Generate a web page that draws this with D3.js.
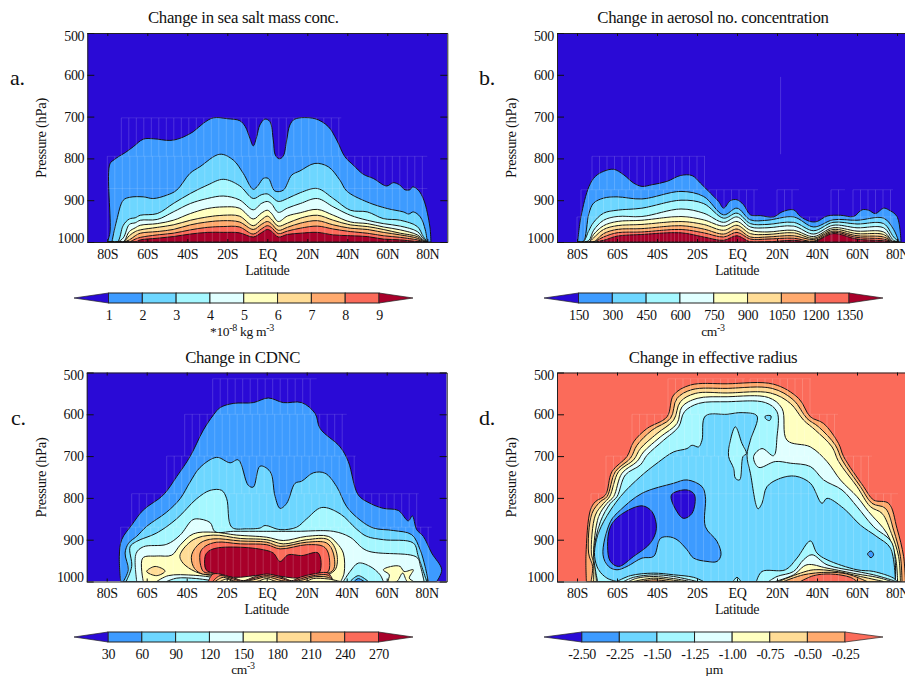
<!DOCTYPE html>
<html>
<head>
<meta charset="utf-8">
<script src="https://cdnjs.cloudflare.com/ajax/libs/d3/7.8.5/d3.min.js"></script>
<style>
  html, body { margin: 0; padding: 0; background: #fff; overflow: hidden; }
  svg { display: block; }
  text { font-family: "Liberation Serif", serif; fill: #111; letter-spacing: -0.3px; }
</style>
</head>
<body>
<svg id="chart" width="905" height="676"></svg>
<script>
const latTicks = [-80, -60, -40, -20, 0, 20, 40, 60, 80];
const latLabels = ["80S", "60S", "40S", "20S", "EQ", "20N", "40N", "60N", "80N"];
const pressureTicks = [500, 600, 700, 800, 900, 1000];
const bandColors = ["#2a0ad6", "#3d9bff", "#6dd6ff", "#a5f7ff", "#e0ffff", "#ffffc0", "#ffdc96", "#ffaa6e", "#fb6b5a", "#a8002a"];

// Colour bar labels
const saltBarLabels = ["1", "2", "3", "4", "5", "6", "7", "8", "9"];
const numBarLabels = ["150", "300", "450", "600", "750", "900", "1050", "1200", "1350"];
const cdncBarLabels = ["30", "60", "90", "120", "150", "180", "210", "240", "270"];
const radiusBarLabels = ["-2.50", "-2.25", "-1.50", "-1.25", "-1.00", "-0.75", "-0.50", "-0.25"];

// a. sea salt: contours as [lat, hPa]
const saltC1 = [[-80,1000],[-78.7,978],[-78.7,813],[-76.5,803],[-74.5,796],[-71,786],[-67,772],[-62,754],[-57,753],[-48.7,757],[-43.7,752],[-37,736],[-32,716],[-27,703],[-20,705],[-13.7,710],[-11,724],[-8.7,752],[-7,770],[-5.3,748],[-3.7,720],[-1.2,706],[1.3,712],[3,756],[4,792],[6,801],[8,794],[9.7,756],[11.3,720],[13.8,706],[23.8,705],[30.5,724],[34.7,756],[38.8,796],[43,816],[48,838],[53,848],[59.7,866],[63,858],[66.3,864],[68.8,875],[71.3,875],[72.7,868],[75.5,876],[78.3,900],[81.3,964],[81.8,1000]];
const saltC2 = [[-77.7,1000],[-75.3,948],[-72,900],[-68.7,893],[-62,892],[-57,896],[-50.3,888],[-45.3,876],[-38.7,836],[-33.7,820],[-23.7,790],[-17,804],[-12,836],[-7,874],[-4.5,864],[-2,848],[0.5,848],[3.8,878],[8,876],[12.2,840],[16.3,830],[23.8,812],[30.5,820],[36.3,852],[39.7,878],[49.8,904],[60,920],[68,928],[70.7,933],[73,928],[76.5,940],[79,971],[80,1000]];
const saltLats = [-80,-75,-72,-69,-66,-63.5,-55,-47,-38.5,-30,-22,-14,-7,-3,0,2,5.5,10,16.5,25,33,41.5,50,58,66.5,75,78,80];
const saltP3 = [1000,1000,960,945,942,936,932,908,884,864,850,865,896,887,885,891,903,896,882,872,896,924,928,944,948,963,987,1000];
const saltP4 = [1000,1000,990,958,954,948,946,928,908,896,890,899,923,908,903,908,929,919,908,896,916,936,948,956,962,975,992,1000];
const saltP5 = [1000,1000,1000,975,966,960,956,948,932,920,916,919,945,931,924,931,951,938,930,922,936,952,956,964,971,983,995,1000];
const saltP6 = [1000,1000,1000,985,975,971,965,959,948,940,936,938,961,947,938,945,962,955,943,936,948,959,963,970,979,987,997,1000];
const saltP7 = [1000,1000,1000,995,985,979,975,970,959,952,949,952,970,958,951,956,972,965,955,949,959,967,970,977,983,991,998,1000];
const saltP8 = [1000,1000,1000,1000,993,989,983,979,971,965,963,964,981,969,961,965,980,974,967,962,969,975,979,985,989,995,999,1000];
const saltP9 = [1000,1000,1000,1000,1000,995,991,987,981,977,977,978,988,978,970,974,988,982,979,977,983,985,987,993,995,999,1000,1000];

// b. aerosol number
const numC1 = [[-79.7,1000],[-78,939],[-74,867],[-70.8,843],[-66.7,831],[-61.7,826],[-56.7,839],[-51.7,859],[-47.5,867],[-42.5,863],[-35,855],[-28.3,841],[-22.5,841],[-18.3,859],[-13.3,883],[-9.2,903],[-6.7,919],[-3.3,901],[0,899],[3.3,911],[6.7,935],[11.7,937],[18.3,940],[22.5,928],[28.3,923],[31.7,939],[36.7,951],[40,951],[45,938],[51.7,936],[58.3,939],[62.5,923],[65.8,924],[69.2,932],[73.3,919],[75.8,923],[80,939],[82,1000]];
const numLats = [-80,-77,-74,-71.7,-66.7,-60,-47.5,-28,-16.7,-6.7,0,6.7,15,28.3,38.3,48,60,73.3,78.3,81];
const numP2 = [1000,1000,931,907,895,892,897,879,891,935,919,947,948,940,964,947,948,943,970,1000];
const numP3 = [1000,1000,972,953,931,924,919,900,908,943,931,956,958,953,973,953,957,956,988,1000];
const numP4 = [1000,1000,996,972,948,939,939,921,931,953,940,964,966,962,981,960,966,966,996,1000];
const numP5 = [1000,1000,1000,982,961,951,948,939,947,962,951,972,976,972,987,966,974,976,1000,1000];
const numP6 = [1000,1000,1000,990,970,961,958,951,958,972,960,980,982,978,991,970,980,982,1000,1000];
const numP7 = [1000,1000,1000,1000,980,970,968,961,969,981,969,988,988,985,994,974,985,988,1000,1000];
const numP8 = [1000,1000,1000,1000,988,978,976,970,978,988,977,993,993,991,998,977,989,993,1000,1000];
const numP9 = [1000,1000,1000,1000,996,986,982,978,988,996,985,1000,1000,996,1000,980,993,997,1000,1000];

// c. CDNC
const cdncC1 = [[-73,1000],[-73.7,940],[-72.5,900],[-67.5,865],[-61.7,829],[-51.7,793],[-45,749],[-38.3,701],[-31.7,638],[-26.7,602],[-23.3,584],[-16.7,574],[-6.7,572],[0.8,561],[8.3,572],[17.5,572],[24.2,598],[26.7,634],[36.7,678],[40.8,713],[45.8,793],[51.7,813],[58.3,825],[65.8,830],[70.8,855],[72.8,843],[75,876],[78.3,892],[82.5,932],[87.5,972],[85,1000]];
const cdncC2 = [[-71.7,1000],[-69.2,972],[-70.8,932],[-69,908],[-65,892],[-60,868],[-50,834],[-43.3,802],[-38.3,762],[-33.3,727],[-25,703],[-18.3,716],[-14.2,709],[-9.2,770],[-6.7,774],[-3.3,724],[1.7,737],[4.2,797],[6.7,825],[10,813],[14.2,765],[17.5,760],[23.3,740],[29.2,741],[35,773],[40,821],[46.7,853],[53.3,872],[63.3,878],[72.5,888],[76.7,924],[79.2,964],[80.8,1000]];
const cdncC3 = [[-70.3,1000],[-67.5,964],[-68.3,917],[-65,904],[-55,884],[-45,850],[-35,802],[-28.3,782],[-22.5,782],[-20,802],[-17.5,870],[-10,874],[-3.3,872],[-0.8,866],[6.7,876],[15,870],[20,850],[27.5,823],[36.7,838],[45,875],[50,892],[58.3,900],[73.3,908],[75.8,940],[80,1000]];
const cdncC4 = [[-65,1000],[-65.3,933],[-61.7,917],[-50,911],[-43.3,889],[-37.5,854],[-35,850],[-28.3,859],[-25.8,881],[-16.7,880],[0,880],[15,880],[33.3,880],[41.7,894],[50,926],[75,942],[77,966],[78.7,1000]];
const cdncC5 = [[-61.7,1000],[-62,944],[-55,939],[-47.5,937],[-43.3,913],[-36.7,886],[-26.7,882],[-15,889],[0,894],[8.3,902],[20,892],[30.8,892],[35,908],[38.3,932],[38.7,980],[37,1000]];
const cdncC6 = [[-43.3,936],[-36.7,900],[-26.7,889],[-13.3,897],[0,900],[8.3,910],[20,900],[30.8,900],[35,932],[34.2,972],[26.7,988],[0,984],[-30,984],[-37.5,972],[-42.5,952]];
const cdncC7 = [[-37.5,936],[-33.3,908],[-26.7,898],[-13.3,903],[0,906],[6.7,916],[20,906],[30,908],[33.3,932],[33.3,972],[26.7,984],[0,980],[-26.7,984],[-33.3,980],[-36.7,964]];
const cdncC8 = [[-33.3,932],[-30.8,916],[-25,906],[-13.3,910],[0,912],[6.7,922],[20,912],[28.3,916],[30.8,932],[30.8,976],[26.7,980],[0,976],[-26.7,980],[-31.7,976]];
const cdncC9 = [[-30.8,940],[-29.2,928],[-25,920],[-13.3,918],[-1.7,924],[3.3,932],[6.7,952],[10.8,936],[17.5,938],[25.8,932],[26.2,980],[16.7,992],[0,984],[-16.7,990],[-26.7,980],[-30.3,972]];
const cdncHoleA = [[-55,1000],[-49.2,986],[-36.7,985],[-25,992],[-20,1000]];
const cdncHoleB = [[-50,1000],[-45,992],[-35,993],[-25,1000]];
const cdncDent8 = [[-29.2,1000],[-26.7,982],[-16.7,991],[-11.7,998],[-6.7,990],[0,982],[8.3,991],[12.5,998],[16.7,990],[23.3,982],[30.8,980],[33.3,1000]];
const cdncDent7 = [[-27,1000],[-23.3,986],[-16.7,994],[-11.7,1000],[-6.7,993],[0,986],[8.3,994],[12.5,1000],[17.5,993],[23.3,986],[30.8,985],[33.3,1000]];
const cdncDent6 = [[-25.8,1000],[-21.7,990],[-15,1000],[-6.7,996],[0,989],[7.5,998],[13.3,1000],[18.3,996],[23.3,989],[30.8,990],[34.2,1000]];
const cdncDent5 = [[-23.3,1000],[-20,994],[-16.7,1000],[-5,1000],[0,993],[5,1000],[19.2,1000],[23.3,993],[30.8,994],[36.7,1000]];
const cdncIslandSmall = [[-60,976],[-55.8,964],[-50.8,975],[-55,986]];
const cdncIslandCream = [[58.3,972],[63.3,963],[66.7,964],[68.7,976],[73.3,972],[71.3,992],[73.3,1000],[70.3,1000],[68,980],[65,1000],[60.8,1000],[61.3,984]];
const cdncIslandA = [[38.3,1000],[41.7,976],[45.8,956],[51.7,964],[56.7,984],[58.3,1000]];
const cdncIslandB = [[41.7,1000],[45.8,986],[50.8,1000]];
const cdncIslandC = [[43.7,1000],[45.8,993],[48.7,1000]];

// d. effective radius
const radC1 = [[-75.3,1000],[-75.5,936],[-73.3,829],[-70.8,809],[-65.8,793],[-62.5,737],[-55,701],[-51.7,666],[-45,634],[-35,606],[-31.7,554],[-23.3,530],[-5,527],[18.3,528],[30.8,562],[36.7,606],[43.3,622],[50.8,670],[53.3,701],[63.3,773],[68.3,805],[75.8,813],[80,873],[83.3,940],[84.2,1000]];
const radC2 = [[-73,1000],[-72.2,964],[-74.2,932],[-72.5,837],[-68.3,809],[-65,797],[-60.8,737],[-53.3,705],[-50,674],[-42.5,638],[-33.3,610],[-30,562],[-22.5,541],[-5,538],[17.5,538],[28.3,566],[35,610],[40.8,630],[49.2,674],[52.5,709],[61.7,773],[67.5,813],[74.2,825],[78.3,877],[81.7,940],[82.5,1000]];
const radC3 = [[-71.7,1000],[-71.7,956],[-72.8,932],[-70.8,841],[-66.7,813],[-63.7,797],[-59.2,737],[-51.7,709],[-48.3,682],[-40,646],[-31.7,614],[-28.3,570],[-20.8,550],[-5,549],[16.7,549],[26.7,574],[33.3,614],[39.2,638],[47.5,678],[50.8,713],[60,773],[66.7,821],[72.5,837],[77.2,885],[80.8,940],[81.7,1000]];
const radC4 = [[-70.3,1000],[-71.2,948],[-71.7,932],[-69.2,845],[-65,813],[-61.7,797],[-57.5,741],[-50,713],[-46.7,690],[-38.3,654],[-30,622],[-27.5,582],[-20,562],[-5,558],[15.8,560],[22.5,586],[25,662],[36.7,678],[45,713],[51.7,757],[60,797],[65.8,833],[75,885],[79.2,940],[80.3,1000]];
const radC5 = [[-69.7,1000],[-70.8,972],[-71.7,932],[-68.3,857],[-63.3,813],[-60,797],[-55.8,745],[-48.3,721],[-45,698],[-36.7,662],[-29.2,630],[-26.3,594],[-19.2,574],[-5,570],[14.2,572],[20,594],[20,654],[18.3,699],[12.5,682],[8.3,701],[10.8,727],[19.2,713],[26.7,717],[36.7,725],[43.3,757],[52.5,781],[60,821],[68.3,869],[77.5,908],[79.2,1000]];
const radC6 = [[-60,1000],[-65,992],[-69.2,972],[-71.2,940],[-70.3,900],[-66.7,857],[-58.3,797],[-48.3,749],[-40,717],[-31.7,690],[-25,682],[-22.5,674],[-19.2,678],[-17.5,662],[-15.8,604],[-5,600],[2.5,596],[10,604],[6.7,662],[5,698],[6.7,741],[10.5,826],[12.5,813],[15,773],[21.7,753],[29.2,748],[36.7,765],[42.5,813],[45,801],[53.3,825],[61.7,865],[70,893],[76.7,920],[79.2,1000]];
const radC7 = [[-67,936],[-63.3,857],[-58.3,829],[-47.5,789],[-31.7,765],[-25,757],[-17.5,773],[-15.8,797],[-15.8,869],[-10,904],[-8,936],[-10,952],[-15,952],[-21.7,944],[-25,924],[-30,900],[-34.2,893],[-38.3,897],[-41.7,940],[-47.5,944],[-55,964],[-60,972],[-64.2,964]];
const radC8 = [[-64.7,916],[-63.3,869],[-58.3,841],[-47.5,819],[-42.5,833],[-40.3,873],[-43.3,908],[-51.7,940],[-59.2,964],[-63.3,952]];
const radC8b = [[-32.8,793],[-25,781],[-21.2,793],[-22.5,837],[-26.7,849],[-30,833]];
const radPatchEq = [[-3.3,662],[-0.8,630],[2.5,670],[4.7,694],[3,701],[1.3,757],[-0.8,753],[-1.7,729],[-4.2,701]];
const radPatchTop = [[14.2,604],[17,604],[16.3,615],[14.2,610]];
const radPatchEast = [[65.3,934],[67,927],[68.3,936],[67,943]];
const radLeft3 = [[-60,1000],[-53.3,986],[-41.7,980],[-31.7,984],[-21.7,990],[-16.7,1000]];
const radLeft4 = [[-56.7,1000],[-51.7,990],[-41.7,984],[-31.7,988],[-20,1000]];
const radLeft5 = [[-54.2,1000],[-50,992],[-41.7,988],[-31.7,993],[-23.3,1000]];
const radLeft6 = [[-51.7,1000],[-41.7,992],[-31.7,997],[-26.7,1000]];
const radLeft7 = [[-48.3,1000],[-41.7,996],[-33.3,1000]];
const radEq3 = [[-2,1000],[0,990],[2,1000]];
const radRight3 = [[9.7,1000],[12.5,976],[24.2,972],[30,944],[36.7,903],[40,932],[45,948],[60,972],[68.3,976],[78.3,992],[80,1000]];
const radRight4 = [[15.8,1000],[20,988],[28.3,976],[33.3,948],[37.5,936],[45,960],[60,976],[68.3,984],[78.3,998],[79.2,1000]];
const radRight5 = [[19.2,1000],[28.3,984],[35,960],[45,968],[60,982],[70,990],[77.5,1000]];
const radRight6 = [[20.8,1000],[31.7,980],[38.3,972],[50,976],[61.7,988],[73.3,1000]];
const radRight7 = [[23.3,1000],[33.3,984],[45,978],[55,982],[65,1000]];
const radRight8 = [[31.7,1000],[38.3,986],[46.7,982],[56.7,990],[60,1000]];

// Significance hatching: [lat from, lat to, hPa top, hPa bottom]
const saltHatch = [[-73,37,703,795],[-80,80,795,872],[-80,80,872,1000]];
const numHatch = [[-72.5,-16,795,875],[-78,-16,875,1000],[-14,10.5,875,1000],[20,31,875,1000],[47,54,875,1000],[58,78,875,1000],[-80,80,940,1000],[21.8,21.8,605,790]];
const cdncHatch = [[-27,25,515,600],[-41,40,600,700],[-50,44.5,700,790],[-67.5,76,790,870],[-73,82.5,870,1000]];
const radHatch = [[-34.5,4,515,600],[6.5,37,515,600],[-52.5,50.5,600,700],[-65.5,67.5,700,790],[-73,80.5,790,1000]];

const zip = (lats, ps) => lats.map((lat, i) => [lat, ps[i]]);

const saltLayers = [[1, saltC1], [2, saltC2], [3, zip(saltLats, saltP3)], [4, zip(saltLats, saltP4)], [5, zip(saltLats, saltP5)], [6, zip(saltLats, saltP6)], [7, zip(saltLats, saltP7)], [8, zip(saltLats, saltP8)], [9, zip(saltLats, saltP9)]];
const numLayers = [[1, numC1], [2, zip(numLats, numP2)], [3, zip(numLats, numP3)], [4, zip(numLats, numP4)], [5, zip(numLats, numP5)], [6, zip(numLats, numP6)], [7, zip(numLats, numP7)], [8, zip(numLats, numP8)], [9, zip(numLats, numP9)]];
const cdncLayers = [[1, cdncC1], [2, cdncC2], [3, cdncC3], [4, cdncC4], [5, cdncC5], [6, cdncIslandSmall], [6, cdncC6], [7, cdncC7], [8, cdncC8], [9, cdncC9], [4, cdncHoleA], [3, cdncHoleB], [8, cdncDent8], [7, cdncDent7], [6, cdncDent6], [5, cdncDent5], [5, cdncIslandCream], [3, cdncIslandA], [2, cdncIslandB], [1, cdncIslandC]];
const radLayers = [[7, radC1], [6, radC2], [5, radC3], [4, radC4], [3, radC5], [2, radPatchTop], [2, radC6], [3, radPatchEq], [1, radC7], [0, radC8], [0, radC8b], [1, radPatchEast], [3, radLeft3], [4, radLeft4], [5, radLeft5], [6, radLeft6], [7, radLeft7], [3, radEq3], [3, radRight3], [4, radRight4], [5, radRight5], [6, radRight6], [7, radRight7], [8, radRight8]];

const svg = d3.select("#chart");

// One contour panel
function drawPanel(id, left, top, background, layers, hatch) {
  const xScale = d3.scaleLinear().domain([-90, 90]).range([left, left + 360]);
  const yScale = d3.scaleLinear().domain([500, 1000]).range([top, top + 209]);

  svg.append("clipPath").attr("id", id)
    .append("rect").attr("x", left).attr("y", top).attr("width", 360).attr("height", 209);

  const ctr = svg.append("g").attr("clip-path", `url(#${id})`);
  ctr.append("rect").attr("x", left).attr("y", top).attr("width", 360).attr("height", 209)
    .attr("fill", bandColors[background]);

  const openLine = d3.line().x((d) => xScale(d[0])).y((d) => yScale(d[1])).curve(d3.curveCatmullRom.alpha(0.5));
  const closedLine = d3.line().x((d) => xScale(d[0])).y((d) => yScale(d[1])).curve(d3.curveCatmullRomClosed.alpha(0.5));

  layers.forEach(([band, points]) => {
    // shapes that sit on the ground are closed along the bottom
    const onGround = points[0][1] >= 1000 && points[points.length - 1][1] >= 1000;
    ctr.append("path")
      .attr("d", onGround ? openLine(points) + "Z" : closedLine(points))
      .attr("fill", bandColors[band])
      .attr("stroke", "#141414")
      .attr("stroke-width", 1)
      .attr("stroke-linejoin", "round");
  });

  // Hatching
  hatch.forEach(([lat0, lat1, p0, p1]) => {
    const lats = lat0 === lat1 ? [lat0] : d3.range(lat0, lat1 + 0.01, 3.75);
    ctr.append("g").selectAll("line").data(lats).join("line")
      .attr("x1", (d) => xScale(d)).attr("x2", (d) => xScale(d))
      .attr("y1", yScale(p0)).attr("y2", yScale(p1))
      .attr("stroke", "#fff").attr("stroke-opacity", 0.17).attr("stroke-width", 1);
    if (lat0 !== lat1) {
      ctr.append("line")
        .attr("x1", xScale(lat0)).attr("x2", xScale(lat1))
        .attr("y1", yScale(p0)).attr("y2", yScale(p0))
        .attr("stroke", "#fff").attr("stroke-opacity", 0.12);
    }
  });

  // Axis
  const xAxis = d3.axisBottom(xScale).tickValues(latTicks)
    .tickFormat((d, i) => latLabels[i]).tickSize(-3).tickPadding(7).tickSizeOuter(0);
  const xTop = d3.axisTop(xScale).tickValues(latTicks).tickFormat("").tickSize(-3).tickSizeOuter(0);
  const yAxis = d3.axisLeft(yScale).tickValues(pressureTicks).tickFormat(d3.format("d"))
    .tickSize(-7).tickPadding(3).tickSizeOuter(0);
  const yRight = d3.axisRight(yScale).tickValues(pressureTicks).tickFormat("").tickSize(-7).tickSizeOuter(0);

  const gx = svg.append("g").attr("transform", `translate(0, ${top + 209})`).call(xAxis);
  svg.append("g").attr("transform", `translate(0, ${top})`).call(xTop);
  const gy = svg.append("g").attr("transform", `translate(${left}, 0)`).call(yAxis);
  svg.append("g").attr("transform", `translate(${left + 360}, 0)`).call(yRight);

  svg.selectAll(".domain").attr("stroke", "#222");
  svg.selectAll(".tick line").attr("stroke", "#111");
  gx.selectAll("text").attr("font-size", 14);
  gy.selectAll("text").attr("font-size", 14);
  // first and last pressure labels stay inside the frame
  gy.selectAll(".tick text").filter((d) => d === 500).attr("y", 3);
  gy.selectAll(".tick text").filter((d) => d === 1000).attr("y", -4);
}

// Colour bar with pointed ends
function drawBar(labels, x0, x1, tip0, tip1, top, lowBand, highBand) {
  const barScale = d3.scalePoint().domain(labels).range([x0, x1]);
  const g = svg.append("g");
  const h = 10;

  g.selectAll("rect").data(labels.slice(0, -1)).join("rect")
    .attr("x", (d) => barScale(d))
    .attr("y", top)
    .attr("width", barScale.step())
    .attr("height", h)
    .attr("fill", (d, i) => bandColors[i + 1])
    .attr("stroke", "#222");

  g.append("path")
    .attr("d", d3.line()([[x0, top], [tip0, top + h / 2], [x0, top + h]]) + "Z")
    .attr("fill", bandColors[lowBand]).attr("stroke", "#222").attr("stroke-width", 0.7);
  g.append("path")
    .attr("d", d3.line()([[x1, top], [tip1, top + h / 2], [x1, top + h]]) + "Z")
    .attr("fill", bandColors[highBand]).attr("stroke", "#222").attr("stroke-width", 0.7);

  const axis = d3.axisBottom(barScale).tickSize(0).tickPadding(7);
  const ga = svg.append("g").attr("transform", `translate(0, ${top + h})`).call(axis);
  ga.select(".domain").remove();
  ga.selectAll("text").attr("font-size", 14);
}

// Text with superscripts: parts are [string, isSuper]
function drawUnit(x, y, parts) {
  const t = svg.append("text").attr("x", x).attr("y", y).attr("text-anchor", "middle").attr("font-size", 13.5);
  let raised = false;
  parts.forEach(([s, sup]) => {
    const span = t.append("tspan").text(s);
    if (sup) {
      span.attr("font-size", 10).attr("dy", -5);
      raised = true;
    } else if (raised) {
      span.attr("dy", 5);
      raised = false;
    }
  });
}

function drawLabels(left, top, title, letter, letterX) {
  svg.append("text").attr("x", left + 156).attr("y", top - 10).attr("text-anchor", "middle")
    .attr("font-size", 16.8).text(title);
  svg.append("text").attr("x", letterX).attr("y", top + 52).attr("font-size", 22).text(letter);
  svg.append("text").attr("x", left + 180).attr("y", top + 241.5).attr("text-anchor", "middle")
    .attr("font-size", 14).text("Latitude");
  svg.append("text")
    .attr("transform", `translate(${left - 41}, ${top + 105}) rotate(-90)`)
    .attr("text-anchor", "middle").attr("font-size", 14.5).text("Pressure (hPa)");
}

drawPanel("clip-a", 87.3, 33, 0, saltLayers, saltHatch);
drawPanel("clip-b", 557, 33, 0, numLayers, numHatch);
drawPanel("clip-c", 86.7, 372.5, 0, cdncLayers, cdncHatch);
drawPanel("clip-d", 557, 372.5, 8, radLayers, radHatch);

drawLabels(87.3, 33, "Change in sea salt mass conc.", "a.", 10);
drawLabels(557, 33, "Change in aerosol no. concentration", "b.", 479);
drawLabels(86.7, 372.5, "Change in CDNC", "c.", 11);
drawLabels(557, 372.5, "Change in effective radius", "d.", 479);

drawBar(saltBarLabels, 108.5, 379, 74, 413, 293, 0, 9);
drawBar(numBarLabels, 578.5, 849, 544, 883, 293, 0, 9);
drawBar(cdncBarLabels, 108, 378.5, 74, 413, 632, 0, 9);
drawBar(radiusBarLabels, 581.7, 845, 544, 883, 632, 0, 8);

drawUnit(242, 335.5, [["*10", false], ["-8", true], [" kg m", false], ["-3", true]]);
drawUnit(713, 335.5, [["cm", false], ["-3", true]]);
drawUnit(243, 673.5, [["cm", false], ["-3", true]]);
drawUnit(714, 673.5, [["\u00b5m", false]]);
</script>
</body>
</html>
